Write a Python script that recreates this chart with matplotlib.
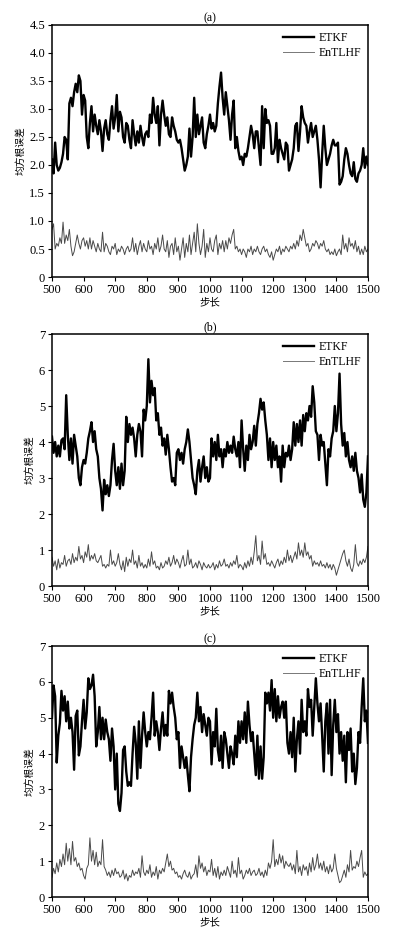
import numpy as np
import matplotlib
matplotlib.use('Agg')
import matplotlib.pyplot as plt

plt.rcParams['font.family'] = ['Liberation Serif', 'Noto Sans CJK SC']

steps = list(range(500, 1501, 5))

# panel (a)
etkf_a = [
    2.1, 1.85, 2.4, 2.0, 1.9, 1.95, 2.05, 2.2, 2.5, 2.45,
    2.1, 3.1, 3.2, 3.05, 3.3, 3.45, 3.3, 3.6, 3.5, 2.9,
    3.25, 3.15, 2.5, 2.3, 2.75, 3.05, 2.6, 2.9, 2.7, 2.55,
    2.8, 2.6, 2.25, 2.65, 2.8, 2.55, 2.45, 2.8, 3.05, 2.65,
    2.85, 3.25, 2.6, 2.95, 2.85, 2.5, 2.4, 2.75, 2.7, 2.45,
    2.3, 2.8, 2.55, 2.35, 2.6, 2.4, 2.7, 2.5, 2.35, 2.55,
    2.6, 2.5, 2.9, 2.75, 3.2, 2.9, 2.75, 3.05, 2.35, 2.9,
    3.15, 2.9, 2.7, 2.85, 2.55, 2.5, 2.85, 2.7, 2.6, 2.45,
    2.4, 2.45, 2.3, 2.1, 1.9, 2.0, 2.15, 2.65, 2.15, 2.5,
    3.2, 2.5, 2.9, 2.55, 2.7, 2.85, 2.4, 2.3, 2.55, 2.7,
    2.9, 2.65, 2.75, 2.6, 2.7, 3.1, 3.4, 3.65, 3.2, 2.9,
    3.3, 3.05, 2.8, 2.45, 2.9, 3.15, 2.3, 2.5, 2.25, 2.1,
    2.15, 2.0, 2.2, 2.15, 2.3, 2.5, 2.7, 2.55, 2.3, 2.6,
    2.6, 2.3, 2.0, 3.05, 2.3, 3.0, 2.75, 2.8, 2.7, 2.2,
    2.2, 2.3, 2.75, 2.05, 2.45, 2.3, 2.2, 2.1, 2.4, 2.35,
    1.9, 2.0, 2.1, 2.3, 2.7, 2.75, 2.25, 2.6, 3.05, 2.85,
    2.75, 2.7, 2.4, 2.6, 2.75, 2.5, 2.6, 2.7, 2.45, 2.1,
    1.6, 2.2, 2.7, 2.3, 2.0, 2.1, 2.2, 2.35, 2.45, 2.35,
    2.35, 2.4, 1.65, 1.7, 1.8, 2.1, 2.3, 2.2, 2.0, 1.85,
    1.8, 2.05, 1.75, 1.7, 1.85, 1.9, 2.0, 2.3, 1.95, 2.15,
    2.0]
entlhf_a = [
    0.85, 0.95, 0.5, 0.6, 0.55, 0.7, 0.6, 0.98, 0.6, 0.75,
    0.65, 0.85, 0.55, 0.38, 0.45, 0.6, 0.75, 0.6, 0.5, 0.65,
    0.7, 0.55, 0.65, 0.5, 0.7, 0.5, 0.65, 0.55, 0.45, 0.6,
    0.5, 0.45, 0.8, 0.45, 0.6, 0.55, 0.45, 0.4, 0.55, 0.5,
    0.6, 0.4, 0.5, 0.45, 0.55, 0.5, 0.4, 0.5, 0.55, 0.45,
    0.5, 0.7, 0.45, 0.6, 0.4, 0.55, 0.65, 0.45, 0.6, 0.5,
    0.45, 0.65, 0.5, 0.55, 0.4, 0.6, 0.5, 0.7, 0.45, 0.55,
    0.75, 0.5, 0.45, 0.65, 0.35, 0.55, 0.6, 0.4, 0.7, 0.45,
    0.55, 0.3, 0.5, 0.7, 0.35, 0.6, 0.45, 0.75, 0.4, 0.6,
    0.8, 0.45, 0.95, 0.6, 0.4, 0.55, 0.85, 0.35, 0.6, 0.45,
    0.7, 0.5, 0.45, 0.65, 0.75, 0.4, 0.6, 0.5, 0.65, 0.45,
    0.65, 0.5, 0.7, 0.6, 0.75, 0.85, 0.5, 0.55, 0.45, 0.5,
    0.4, 0.5, 0.45, 0.35, 0.5, 0.45, 0.55, 0.4, 0.5, 0.45,
    0.55, 0.45, 0.4, 0.5, 0.55, 0.45, 0.5, 0.4, 0.35, 0.45,
    0.3, 0.4, 0.5, 0.45, 0.55, 0.4, 0.5, 0.45, 0.55, 0.5,
    0.45, 0.55, 0.5, 0.6, 0.5, 0.65, 0.55, 0.75, 0.65, 0.85,
    0.7, 0.55, 0.6, 0.45, 0.5, 0.6, 0.55, 0.65, 0.6, 0.5,
    0.6, 0.55, 0.65, 0.5, 0.45, 0.5, 0.4, 0.45, 0.4, 0.5,
    0.38, 0.45, 0.5, 0.4, 0.75, 0.5, 0.6, 0.45, 0.7, 0.55,
    0.6, 0.5, 0.65, 0.45, 0.55, 0.4, 0.5, 0.4, 0.55, 0.45,
    0.5]

# panel (b)
etkf_b = [
    4.15, 3.7, 4.0, 3.6, 3.9, 3.6, 4.05, 4.1, 3.8, 5.3,
    4.2, 3.5, 4.1, 3.4, 4.2, 3.9, 3.6, 3.0, 2.8, 3.3,
    3.5, 3.4, 3.7, 4.1, 4.3, 4.55, 4.0, 4.3, 3.8, 3.6,
    3.0, 2.7, 2.1, 2.95, 2.55, 2.8, 2.5, 2.8, 3.5, 3.95,
    3.2, 2.8, 3.3, 2.7, 3.4, 2.8, 3.2, 4.7, 4.0, 4.5,
    4.2, 4.4, 4.1, 3.6, 4.2, 4.5, 4.3, 3.6, 4.9, 4.6,
    5.0, 6.3, 5.1, 5.7, 5.3, 5.5, 4.6, 4.8, 4.2, 4.4,
    3.9, 4.1, 3.65, 4.2, 3.8, 3.3, 2.9, 3.0, 2.8, 3.7,
    3.8, 3.5, 3.7, 3.4, 3.8, 4.0, 4.35, 4.0, 3.5, 3.0,
    2.8, 2.55, 3.2, 3.5, 2.9, 3.3, 3.6, 3.0, 3.3, 2.9,
    3.0, 4.1, 3.6, 4.0, 3.5, 4.2, 3.6, 3.8, 3.3, 3.8,
    3.6, 4.0, 3.7, 3.9, 3.7, 4.15, 3.8, 3.6, 4.0, 3.3,
    4.6, 3.8, 3.2, 3.9, 3.5, 4.2, 3.8, 4.0, 4.45, 3.9,
    4.5, 4.8, 5.2, 4.9, 5.1, 4.6, 4.2, 3.5, 4.1, 3.3,
    4.0, 3.5, 3.9, 3.3, 3.6, 2.9, 3.9, 3.3, 3.7, 3.6,
    3.9, 3.5, 3.8, 4.55, 3.9, 4.5, 4.0, 4.6, 3.9, 4.75,
    4.3, 4.8, 4.6, 5.0, 4.7, 5.55, 5.1, 4.3, 4.2, 3.5,
    4.2, 3.9, 4.0, 3.4, 2.8, 3.8, 3.6, 4.1, 4.3, 5.0,
    4.3, 4.8, 5.9, 4.5, 3.9, 4.25, 3.6, 4.0, 3.5, 3.3,
    3.6, 3.2, 3.7, 3.2, 3.0, 2.6, 3.1, 2.4, 2.2, 2.6,
    3.6]
entlhf_b = [
    0.8, 0.55, 0.7, 0.45, 0.75, 0.5, 0.65, 0.6, 0.85, 0.55,
    0.7, 0.75, 0.6, 0.9, 0.65, 0.8, 0.7, 1.1, 0.75, 0.85,
    0.65, 0.95, 0.8, 1.15, 0.7, 0.85, 0.75, 0.9, 0.7, 0.65,
    0.75, 0.85, 0.55, 0.6, 0.5, 0.6, 0.55, 1.0, 0.6, 0.7,
    0.55, 0.65, 0.9, 0.6, 0.45, 0.7, 0.4, 0.8, 0.55, 0.75,
    0.65, 1.0, 0.6, 0.7, 0.5, 0.85, 0.55, 0.65, 0.5, 0.6,
    0.5, 0.75, 0.55, 0.95, 0.6, 0.7, 0.5, 0.55, 0.45, 0.65,
    0.5, 0.55, 0.7, 0.6, 0.8, 0.55, 0.65, 0.85, 0.6, 0.75,
    0.65, 0.5, 0.7, 0.85, 0.55, 0.6, 1.0, 0.6, 0.75, 0.5,
    0.55, 0.65, 0.5, 0.7, 0.6, 0.45, 0.65, 0.55, 0.5, 0.6,
    0.5, 0.55, 0.65, 0.45, 0.6, 0.5, 0.7, 0.55, 0.6, 0.75,
    0.55, 0.6, 0.5, 0.65, 0.55, 0.7, 0.6, 0.85, 0.5, 0.6,
    0.55, 0.45, 0.65, 0.5, 0.7, 0.55, 0.8, 0.6, 0.95, 1.4,
    0.7, 0.85, 0.6, 1.25, 0.75, 0.9, 0.6, 0.65, 0.55, 0.7,
    0.6, 0.5, 0.65, 0.75, 0.55, 0.7, 0.6, 0.8, 0.65, 1.0,
    0.7, 0.85, 0.65, 0.8, 0.95, 0.75, 1.2, 0.85, 1.0, 0.8,
    1.2, 0.85, 0.95, 0.75, 0.85, 0.55, 0.7, 0.6, 0.65, 0.55,
    0.7, 0.55, 0.6, 0.5, 0.65, 0.5, 0.6, 0.45, 0.6, 0.5,
    0.3, 0.45, 0.6, 0.75, 0.9, 1.0, 0.7, 0.55, 0.75, 0.5,
    0.4, 0.6, 1.15, 0.65, 0.55, 0.7, 0.6, 0.75, 0.65, 0.8,
    1.1]

# panel (c)
etkf_c = [
    5.0, 5.9, 5.6, 3.75, 4.5, 4.85, 5.75, 5.2, 5.6, 4.9,
    5.45, 4.7, 5.0, 4.6, 3.55, 5.05, 5.2, 3.95, 4.2, 4.9,
    5.5, 4.7, 5.15, 6.1, 5.8, 5.9, 6.2, 5.6, 4.2, 4.6,
    5.3, 4.4, 5.0, 4.4, 4.95, 4.6, 4.4, 3.8, 4.7, 4.2,
    3.0, 4.0, 2.6, 2.4, 2.9, 4.1, 4.2, 3.5, 3.1, 3.2,
    3.1, 4.0, 4.75, 4.3, 3.3, 4.9, 3.6, 4.5, 5.15, 4.6,
    4.2, 4.6, 4.4, 5.0, 5.7, 4.5, 4.9, 4.6, 4.1, 4.7,
    5.15, 4.5, 4.8, 4.5, 5.75, 5.4, 5.7, 5.3, 5.0, 4.4,
    4.6, 3.6, 4.2, 3.9, 3.6, 3.9, 3.4, 2.95, 3.9, 4.4,
    4.8, 5.0, 5.7, 4.9, 5.3, 4.6, 5.1, 4.8, 4.5, 5.0,
    4.9, 3.7, 4.6, 4.2, 5.25, 4.1, 3.8, 4.5, 3.6, 4.6,
    4.4, 4.0, 3.6, 4.2, 4.0, 3.7, 4.5, 3.9, 4.9, 4.3,
    4.9, 4.4, 5.15, 4.3, 5.45, 4.8, 4.35, 4.6, 4.0, 3.4,
    4.5, 3.3, 4.2, 3.3, 3.9, 5.7, 5.4, 5.7, 5.2, 6.05,
    5.0, 5.8, 4.9, 5.6, 5.0, 5.3, 5.45, 5.0, 5.45, 4.3,
    4.0, 4.6, 3.9, 5.0, 3.5, 4.4, 4.9, 4.0, 5.5, 4.6,
    4.9, 4.5, 5.8, 5.3, 5.5, 4.5, 5.3, 6.1, 5.4, 4.9,
    5.4, 4.5, 3.5, 4.9, 5.4, 4.0, 5.5, 3.4, 4.8, 5.5,
    4.6, 5.1, 4.0, 4.6, 3.8, 4.5, 3.2, 4.6, 4.1, 4.7,
    3.5, 4.0, 3.15, 3.6, 4.6, 4.3, 5.3, 6.1, 4.9, 5.2,
    4.3]
entlhf_c = [
    0.55, 0.8, 0.65, 0.95, 0.7, 1.05, 0.85, 1.2, 0.9, 1.5,
    1.0, 1.35, 0.9, 1.55, 1.0, 1.1, 0.85, 0.95, 0.75, 0.8,
    0.6, 0.5, 0.8, 0.9, 1.65, 1.0, 1.3, 0.9, 1.25, 0.85,
    1.0, 0.9, 1.6, 0.85, 0.75, 0.6, 0.7, 0.55, 0.75, 0.6,
    0.8, 0.65, 0.7, 0.55, 0.6, 0.75, 0.5, 0.65, 0.45, 0.6,
    0.55, 0.75, 0.6, 0.7, 0.65, 0.8, 0.55, 1.15, 0.7, 0.6,
    0.75, 0.65, 0.9, 0.55, 0.7, 0.6, 0.85, 0.5, 0.75, 0.65,
    0.8, 0.7, 0.95, 1.2, 0.85, 1.0, 0.75, 0.8, 0.65, 0.7,
    0.55, 0.6, 0.5, 0.65, 0.75, 0.6, 0.55, 0.7, 0.5, 0.6,
    0.65, 0.9, 0.55, 1.15, 0.8, 0.95, 0.7, 0.85, 0.6, 0.75,
    0.7, 1.05, 0.6, 0.8, 0.55, 0.85, 0.5, 0.7, 0.6, 0.75,
    0.6, 0.85, 0.7, 0.55, 1.0, 0.65, 0.75, 0.55, 1.1, 0.65,
    0.75, 0.5, 0.6, 0.75, 0.65, 0.8, 0.6, 0.7, 0.75, 0.6,
    0.65, 0.8, 0.6, 0.7, 0.55, 0.75, 0.6, 0.95, 0.8, 1.0,
    1.6, 0.85, 1.05, 0.9, 1.2, 0.95, 1.15, 0.8, 1.0, 0.9,
    0.85, 0.95, 0.75, 0.9, 0.65, 1.3, 0.7, 0.85, 0.6, 0.9,
    0.75, 0.85, 0.6, 0.95, 0.7, 1.1, 0.75, 0.9, 1.2, 0.8,
    0.95, 0.75, 1.0, 0.7, 0.85, 0.65, 0.9, 0.7, 0.8, 1.2,
    0.8, 0.6, 0.4, 0.45, 0.6, 0.75, 0.55, 0.9, 0.7, 1.3,
    0.75, 0.85, 0.8, 1.0, 0.85, 1.1, 1.3, 0.55, 0.7, 0.6,
    0.65]

xticks = list(range(500, 1501, 100))
yticks_a = [0, 0.5, 1.0, 1.5, 2.0, 2.5, 3.0, 3.5, 4.0, 4.5]
ylabels_a = ['0', '0.5', '1.0', '1.5', '2.0', '2.5', '3.0', '3.5', '4.0', '4.5']
yticks_bc = [0, 1, 2, 3, 4, 5, 6, 7]

panels = [
    ('(a)', etkf_a, entlhf_a, yticks_a, ylabels_a, [0.1316, 0.705, 0.80, 0.2684]),
    ('(b)', etkf_b, entlhf_b, yticks_bc, [str(v) for v in yticks_bc], [0.1316, 0.3759, 0.80, 0.2684]),
    ('(c)', etkf_c, entlhf_c, yticks_bc, [str(v) for v in yticks_bc], [0.1316, 0.0447, 0.80, 0.2673]),
]

fig = plt.figure(figsize=(3.95, 9.39), dpi=100)
cjk = ['Noto Sans CJK SC', 'DejaVu Sans']

for title, etkf, entlhf, yt, yl, rect in panels:
    ax = fig.add_axes(rect)
    ax.plot(steps, etkf, color='black', linewidth=1.7, label='ETKF')
    ax.plot(steps, entlhf, color='#4a4a4a', linewidth=0.7, label='EnTLHF')
    ax.set_xlim(500, 1500)
    ax.set_ylim(yt[0], yt[-1])
    ax.set_xticks(xticks)
    ax.set_xticklabels([str(v) for v in xticks])
    ax.set_yticks(yt)
    ax.set_yticklabels(yl)
    ax.tick_params(labelsize=9, length=3, width=0.8, pad=2)
    for s in ax.spines.values():
        s.set_linewidth(1.1)
    ax.set_title(title, fontsize=8.5, pad=3)
    ax.set_xlabel('步长', family=cjk, fontsize=7.5, labelpad=1)
    ax.set_ylabel('均方根误差', family=cjk, fontsize=7, labelpad=3)
    leg = ax.legend(loc='upper right', frameon=False, fontsize=8.5,
                    handlelength=2.6, handletextpad=0.4, labelspacing=0.25,
                    borderaxespad=0.2)
    leg.get_lines()[1].set_color('#777777')

fig.savefig('out.png', dpi=100)
